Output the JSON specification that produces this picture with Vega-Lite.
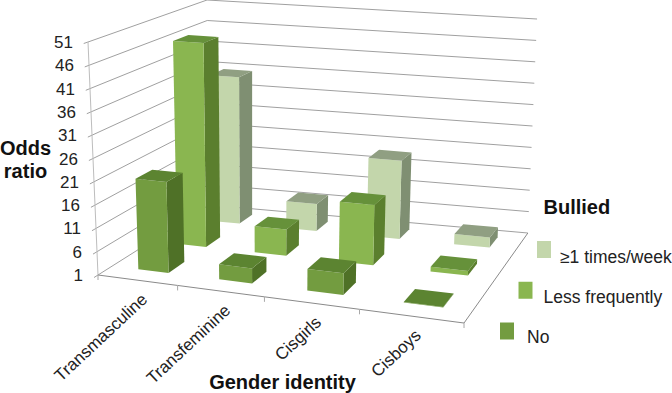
{"$schema":"https://vega.github.io/schema/vega-lite/v6.json","width":672,"height":393,"padding":0,"autosize":"none","background":"white","config":{"view":{"stroke":null},"font":"Liberation Sans"},
"datasets":{
"bars":[
{"gender":"Transmasculine","bullied":"≥1 times/week","value":35.5},{"gender":"Transfeminine","bullied":"≥1 times/week","value":7.3},{"gender":"Cisgirls","bullied":"≥1 times/week","value":19},{"gender":"Cisboys","bullied":"≥1 times/week","value":3.3},
{"gender":"Transmasculine","bullied":"Less frequently","value":47},{"gender":"Transfeminine","bullied":"Less frequently","value":6.8},{"gender":"Cisgirls","bullied":"Less frequently","value":14.2},{"gender":"Cisboys","bullied":"Less frequently","value":2},
{"gender":"Transmasculine","bullied":"No","value":20.6},{"gender":"Transfeminine","bullied":"No","value":4.2},{"gender":"Cisgirls","bullied":"No","value":5.5},{"gender":"Cisboys","bullied":"No","value":1.1}],
"levels":[{"level":1},{"level":6},{"level":11},{"level":16},{"level":21},{"level":26},{"level":31},{"level":36},{"level":41},{"level":46},{"level":51}],
"cats":[{"gender":"Transmasculine","i":0},{"gender":"Transfeminine","i":1},{"gender":"Cisgirls","i":2},{"gender":"Cisboys","i":3}],
"marks":[{"b":0},{"b":1},{"b":2},{"b":3},{"b":4}],
"keys":[{"bullied":"≥1 times/week","s":2},{"bullied":"Less frequently","s":1},{"bullied":"No","s":0}]
},
"layer":[
{"data":{"name":"levels"},
"transform":[{"calculate":"[0,1,2,3]","as":"c"},{"flatten":["c"]},
{"calculate":"datum.c==3?1:0","as":"U"},{"calculate":"datum.c==0?-0.03:(datum.c==1?0:1)","as":"V"},{"calculate":"(datum.level-1)/50","as":"H"},
{"calculate":"(289*datum.U+148.8*datum.V+98)/(1-0.166*datum.U+0.181*datum.V)","as":"fx"},{"calculate":"(-5.6*datum.U-32.9*datum.V+275)/(1-0.166*datum.U+0.181*datum.V)","as":"fy"},
{"calculate":"(311.4*datum.U+159.2*datum.V+88)/(1-0.1539*datum.U+0.194*datum.V)","as":"tx"},{"calculate":"(19.77*datum.U-42*datum.V+42)/(1-0.1539*datum.U+0.194*datum.V)","as":"ty"},
{"calculate":"datum.fx+(datum.tx-datum.fx)*datum.H","as":"sx"},{"calculate":"datum.fy+(datum.ty-datum.fy)*datum.H","as":"sy"}],
"mark":{"type":"line","stroke":"#a0a0a0","strokeWidth":1},
"encoding":{"x":{"field":"sx","type":"quantitative","scale":{"domain":[0,672],"nice":false,"zero":false},"axis":{"title":"Gender identity","grid":false,"labels":false,"ticks":false,"domain":false,"titleX":282,"titleY":-11,"titleAlign":"center","titleBaseline":"middle","titleFontSize":20,"titleFontWeight":"bold","titleColor":"#111","titleFont":"Liberation Sans"}},
"y":{"field":"sy","type":"quantitative","scale":{"domain":[393,0],"nice":false,"zero":false},"axis":{"title":["Odds","ratio"],"grid":false,"labels":false,"ticks":false,"domain":false,"titleX":25,"titleY":148,"titleAngle":0,"titleAlign":"center","titleBaseline":"middle","titleFontSize":20,"titleLineHeight":23,"titleFontWeight":"bold","titleColor":"#111","titleFont":"Liberation Sans"}},
"detail":{"field":"level"},"order":{"field":"c"}}},
{"data":{"name":"levels"},
"transform":[{"calculate":"(datum.level-1)/50","as":"H"},{"calculate":"98+(88-98)*datum.H","as":"sx"},{"calculate":"275+(42-275)*datum.H","as":"sy"}],
"mark":{"type":"line","stroke":"#bdbdbd","strokeWidth":1},
"encoding":{"x":{"field":"sx","type":"quantitative"},"y":{"field":"sy","type":"quantitative"},"order":{"field":"level"}}},
{"data":{"name":"marks"},
"transform":[{"calculate":"datum.b/4","as":"U"},
{"calculate":"(289*datum.U+98)/(1-0.166*datum.U)","as":"sx"},{"calculate":"(-5.6*datum.U+275)/(1-0.166*datum.U)","as":"sy"}],
"mark":{"type":"line","stroke":"#8a8a8a","strokeWidth":1},
"encoding":{"x":{"field":"sx","type":"quantitative"},"y":{"field":"sy","type":"quantitative"},"order":{"field":"b"}}},
{"data":{"name":"marks"},
"transform":[{"calculate":"datum.b/4","as":"U"},
{"calculate":"(289*datum.U+98)/(1-0.166*datum.U)","as":"sx"},{"calculate":"(-5.6*datum.U+275)/(1-0.166*datum.U)","as":"sy"},{"calculate":"datum.sy+5","as":"sy2"}],
"mark":{"type":"rule","stroke":"#a8a8a8","strokeWidth":1},
"encoding":{"x":{"field":"sx","type":"quantitative"},"y":{"field":"sy","type":"quantitative"},"y2":{"field":"sy2"}}},
{"data":{"name":"marks"},
"transform":[{"filter":"datum.b==0||datum.b==4"},{"calculate":"datum.b/4","as":"V"},
{"calculate":"(289+148.8*datum.V+98)/(1-0.166+0.181*datum.V)","as":"sx"},{"calculate":"(-5.6-32.9*datum.V+275)/(1-0.166+0.181*datum.V)","as":"sy"}],
"mark":{"type":"line","stroke":"#8a8a8a","strokeWidth":1},
"encoding":{"x":{"field":"sx","type":"quantitative"},"y":{"field":"sy","type":"quantitative"},"order":{"field":"b"}}},
{"data":{"name":"bars"},
"transform":[
{"calculate":"indexof(['Transmasculine','Transfeminine','Cisgirls','Cisboys'],datum.gender)","as":"i"},
{"calculate":"indexof(['No','Less frequently','≥1 times/week'],datum.bullied)","as":"s"},
{"calculate":"(datum.i+0.5)/4-0.04","as":"u0"},{"calculate":"(datum.i+0.5)/4+0.056","as":"u1"},
{"calculate":"(datum.s+0.5)/3-0.055","as":"v0"},{"calculate":"(datum.s+0.5)/3+0.08","as":"v1"},
{"calculate":"(datum.value-1)/50","as":"h"},
{"calculate":"['side','front','top']","as":"face"},{"flatten":["face"]},
{"calculate":"[0,1,2,3]","as":"c"},{"flatten":["c"]},
{"calculate":"datum.face=='side'?datum.u1:((datum.c==1||datum.c==2)?datum.u1:datum.u0)","as":"U"},
{"calculate":"datum.face=='front'?datum.v0:(datum.face=='side'?((datum.c==1||datum.c==2)?datum.v1:datum.v0):(datum.c>=2?datum.v1:datum.v0))","as":"V"},
{"calculate":"datum.face=='top'?datum.h:(datum.c>=2?datum.h:0)","as":"H"},
{"calculate":"(289*datum.U+148.8*datum.V+98)/(1-0.166*datum.U+0.181*datum.V)","as":"fx"},{"calculate":"(-5.6*datum.U-32.9*datum.V+275)/(1-0.166*datum.U+0.181*datum.V)","as":"fy"},
{"calculate":"(311.4*datum.U+159.2*datum.V+88)/(1-0.1539*datum.U+0.194*datum.V)","as":"tx"},{"calculate":"(19.77*datum.U-42*datum.V+42)/(1-0.1539*datum.U+0.194*datum.V)","as":"ty"},
{"calculate":"datum.fx+(datum.tx-datum.fx)*datum.H","as":"sx"},{"calculate":"datum.fy+(datum.ty-datum.fy)*datum.H","as":"sy"},
{"calculate":"datum.bullied+'|'+datum.gender+'|'+datum.face","as":"poly"},
{"calculate":"datum.face=='front'?datum.bullied:datum.bullied+' '+datum.face","as":"shade"}],
"mark":{"type":"line","strokeWidth":0},
"encoding":{"x":{"field":"sx","type":"quantitative"},"y":{"field":"sy","type":"quantitative"},"detail":{"field":"poly"},"order":{"field":"c"},
"fill":{"field":"shade","type":"nominal","legend":null,"scale":{"domain":["≥1 times/week","≥1 times/week top","≥1 times/week side","Less frequently","Less frequently top","Less frequently side","No","No top","No side"],"range":["#c3d6ab","#909f82","#7f8f72","#8ab650","#66913a","#5b7f2e","#739c40","#5c8431","#4f7127"]}}}},
{"data":{"name":"levels"},
"transform":[{"calculate":"(datum.level-1)/50","as":"H"},{"calculate":"83+(73-83)*datum.H","as":"sx"},{"calculate":"276+(43-276)*datum.H","as":"sy"}],
"mark":{"type":"text","align":"right","baseline":"middle","fontSize":17,"color":"#222"},
"encoding":{"x":{"field":"sx","type":"quantitative"},"y":{"field":"sy","type":"quantitative"},"text":{"field":"level"}}},
{"data":{"name":"cats"},
"transform":[{"calculate":"(datum.i+0.5)/4","as":"U"},
{"calculate":"(289*datum.U+98)/(1-0.166*datum.U)+8","as":"sx"},{"calculate":"(-5.6*datum.U+275)/(1-0.166*datum.U)+17","as":"sy"}],
"mark":{"type":"text","align":"right","baseline":"middle","angle":317,"fontSize":17,"color":"#222"},
"encoding":{"x":{"field":"sx","type":"quantitative"},"y":{"field":"sy","type":"quantitative"},"text":{"field":"gender"}}},
{"data":{"name":"keys"},
"transform":[{"calculate":"507+18.5*datum.s-7","as":"x0"},{"calculate":"507+18.5*datum.s+7","as":"x1"},{"calculate":"331-40.75*datum.s-8.5","as":"y0"},{"calculate":"331-40.75*datum.s+8.5","as":"y1"}],
"mark":{"type":"rect"},
"encoding":{"x":{"field":"x0","type":"quantitative"},"x2":{"field":"x1"},"y":{"field":"y0","type":"quantitative"},"y2":{"field":"y1"},"fill":{"field":"bullied","type":"nominal","legend":null}}},
{"data":{"name":"keys"},
"transform":[{"calculate":"527+16.5*datum.s","as":"sx"},{"calculate":"338-40*datum.s","as":"sy"}],
"mark":{"type":"text","align":"left","baseline":"middle","fontSize":17.5,"color":"#222"},
"encoding":{"x":{"field":"sx","type":"quantitative"},"y":{"field":"sy","type":"quantitative"},"text":{"field":"bullied"}}},
{"data":{"values":[{"title":"Bullied","s":1}]},
"transform":[{"calculate":"527+16.5*datum.s","as":"sx"},{"calculate":"338-130*datum.s","as":"sy"}],
"mark":{"type":"text","align":"left","baseline":"middle","fontSize":20,"fontWeight":"bold","color":"#111"},
"encoding":{"x":{"field":"sx","type":"quantitative"},"y":{"field":"sy","type":"quantitative"},"text":{"field":"title"}}}
]}
